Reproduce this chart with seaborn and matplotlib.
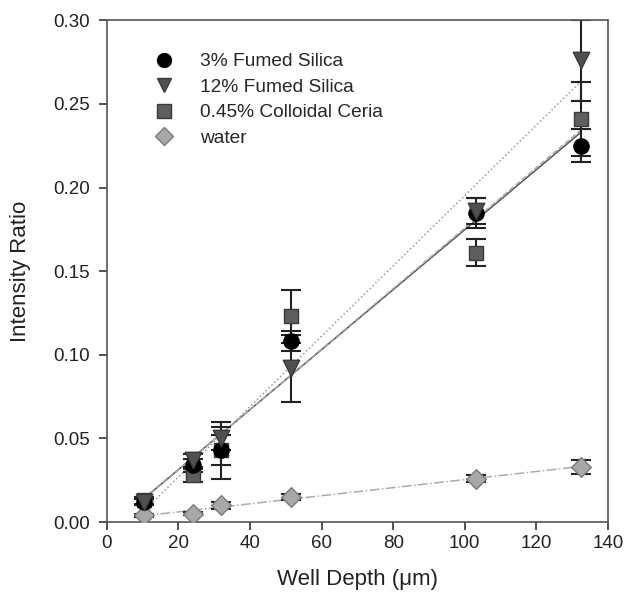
import numpy as np
import pandas as pd
import matplotlib
matplotlib.use("Agg")
import matplotlib.pyplot as plt
import seaborn as sns

depth = [10.5, 24, 32, 51.5, 103, 132.5]
series = ["3% Fumed Silica", "12% Fumed Silica", "0.45% Colloidal Ceria", "water"]
fs3 = [0.012, 0.034, 0.043, 0.108, 0.185, 0.225]
fs3_err = [0.002, 0.004, 0.017, 0.006, 0.009, 0.010]
fs12 = [0.012, 0.037, 0.050, 0.092, 0.186, 0.276]
fs12_err = [0.002, 0.004, 0.007, 0.020, 0.008, 0.024]
ceria = [0.013, 0.028, 0.043, 0.123, 0.161, 0.241]
ceria_err = [0.002, 0.004, 0.009, 0.016, 0.008, 0.022]
water = [0.004, 0.005, 0.010, 0.015, 0.026, 0.033]
water_err = [0.001, 0.001, 0.002, 0.002, 0.002, 0.004]

values = [fs3, fs12, ceria, water]
errors = [fs3_err, fs12_err, ceria_err, water_err]

df = pd.DataFrame({
    "depth": depth * 4,
    "ratio": fs3 + fs12 + ceria + water,
    "err": fs3_err + fs12_err + ceria_err + water_err,
    "series": sum([[s] * len(depth) for s in series], []),
})

sns.set_style("ticks")
plt.rcParams["font.family"] = ["Liberation Sans", "DejaVu Sans"]

fig = plt.figure(figsize=(6.32, 5.96), dpi=100)
ax = fig.add_axes([0.169, 0.124, 0.793, 0.842])

face = {"3% Fumed Silica": "#000000", "12% Fumed Silica": "#505050",
        "0.45% Colloidal Ceria": "#5e5e5e", "water": "#a8a8a8"}
edge = {"3% Fumed Silica": "#000000", "12% Fumed Silica": "#3a3a3a",
        "0.45% Colloidal Ceria": "#3a3a3a", "water": "#7a7a7a"}
markers = {"3% Fumed Silica": "o", "12% Fumed Silica": "v",
           "0.45% Colloidal Ceria": "s", "water": "D"}
sizes = {"3% Fumed Silica": 120, "12% Fumed Silica": 140,
         "0.45% Colloidal Ceria": 110, "water": 100}
line_styles = {"3% Fumed Silica": ("-", "#555555"),
               "12% Fumed Silica": (":", "#999999"),
               "0.45% Colloidal Ceria": ("--", "#aaaaaa"),
               "water": ("-.", "#aaaaaa")}

xs = np.array(depth)
# regression lines
for s, v in zip(series, values):
    k, b = np.polyfit(xs, np.array(v), 1)
    ls, c = line_styles[s]
    ax.plot([xs.min(), xs.max()], [k * xs.min() + b, k * xs.max() + b],
            ls=ls, color=c, lw=1.1, zorder=1)

# error bars
for s, v, e in zip(series, values, errors):
    ax.errorbar(xs, v, yerr=e, fmt="none", ecolor="#222222", elinewidth=1.5,
                capsize=7, capthick=1.5, zorder=2)

# markers
order = ["water", "0.45% Colloidal Ceria", "3% Fumed Silica", "12% Fumed Silica"]
for s in order:
    sub = df[df["series"] == s]
    sns.scatterplot(data=sub, x="depth", y="ratio", marker=markers[s],
                    s=sizes[s], color=face[s], edgecolor=edge[s], linewidth=1,
                    ax=ax, zorder=3, legend=False)

# legend
handles = [plt.Line2D([], [], ls="none", marker=markers[s], markersize=10 if s != "water" else 9,
                      markerfacecolor=face[s], markeredgecolor=edge[s]) for s in series]
ax.legend(handles, series, loc="upper left", bbox_to_anchor=(0.06, 0.95), frameon=False,
          fontsize=13.8, handletextpad=0.9, labelspacing=0.42, borderaxespad=0)

ax.set_xlim(0, 140)
ax.set_ylim(0, 0.30)
ax.set_xticks(np.arange(0, 141, 20))
ax.set_yticks(np.arange(0, 0.301, 0.05))
ax.yaxis.set_major_formatter(matplotlib.ticker.FormatStrFormatter("%.2f"))
ax.tick_params(axis="both", labelsize=13.5, colors="#333333", length=6, width=1.2,
               labelcolor="#222222")
ax.tick_params(axis="y", pad=6)
for sp in ax.spines.values():
    sp.set_color("#555555")
    sp.set_linewidth(1.2)
ax.set_xlabel("Well Depth (\u03bcm)", fontsize=16, color="#222222", labelpad=12)
ax.set_ylabel("Intensity Ratio", fontsize=16, color="#222222", labelpad=16)

fig.savefig("out.png", dpi=100)
